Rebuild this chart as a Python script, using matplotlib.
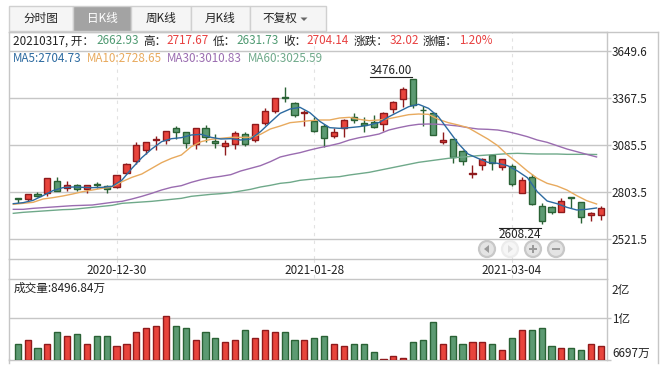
import numpy as np
import matplotlib
matplotlib.use("Agg")
import matplotlib.pyplot as plt
from matplotlib.patches import Rectangle, Circle, Polygon

plt.rcParams['font.family'] = ['Noto Sans CJK SC', 'DejaVu Sans']

open_ = [2762.6,2760.6,2786.6,2792.6,2864.6,2822.6,2840.6,2816.6,2848.6,2838.6,
         2828.6,2912.6,2984.6,3050.6,3114.6,3110.6,3182.6,3158.6,3086.6,3182.6,
         3104.6,3078.6,3086.6,3146.6,3110.6,3216.6,3288.6,3368.6,3336.6,3276.6,
         3226.6,3196.6,3134.6,3182.6,3248.6,3212.6,3222.6,3206.6,3296.6,3356.6,
         3476.0,3294.6,3276.6,3098.6,3116.6,3046.6,2906.6,2960.6,3020.6,2952.6,
         2958.6,2796.6,2888.6,2714.6,2708.6,2682.6,2770.6,2738.6,2664.6,2662.93]
close = [2758.6,2786.6,2776.6,2882.6,2808.6,2840.6,2820.6,2840.6,2842.6,2816.6,
         2900.6,2966.6,3080.6,3098.6,3118.6,3164.6,3158.6,3092.6,3182.6,3130.6,
         3092.6,3092.6,3152.6,3086.6,3206.6,3286.6,3362.6,3362.6,3262.6,3282.6,
         3168.6,3126.6,3158.6,3232.6,3230.6,3204.6,3192.6,3276.6,3338.6,3416.6,
         3320.6,3290.6,3142.6,3110.6,3012.6,2984.6,2912.6,2998.6,2972.6,2996.6,
         2848.6,2870.6,2730.6,2628.6,2678.6,2744.6,2764.6,2648.6,2672.6,2704.14]
high = [2766.6,2787.0,2802.6,2885.0,2888.6,2864.6,2846.6,2842.6,2858.6,2840.0,
        2904.6,2976.6,3098.6,3100.6,3136.6,3168.6,3196.6,3160.6,3184.6,3202.6,
        3146.6,3112.6,3166.6,3158.6,3208.0,3302.6,3366.0,3428.6,3338.0,3290.0,
        3248.6,3208.0,3186.6,3236.6,3276.6,3252.6,3262.6,3278.0,3346.6,3428.6,
        3476.0,3316.6,3278.0,3158.6,3118.0,3052.6,2962.6,3002.6,3028.6,2998.0,
        2966.6,2892.6,2906.6,2732.6,2716.6,2766.6,2771.0,2740.0,2678.6,2717.67]
low = [2736.6,2738.6,2770.6,2778.6,2806.6,2808.6,2808.6,2792.6,2822.6,2792.6,
       2824.6,2910.6,2966.6,3026.6,3052.6,3086.6,3116.6,3066.6,3056.6,3098.6,
       3062.6,3020.6,3056.6,3074.6,3098.6,3202.6,3272.6,3342.6,3248.6,3196.6,
       3162.6,3068.6,3122.6,3132.6,3216.6,3158.6,3182.6,3166.6,3272.6,3312.6,
       3302.6,3196.6,3140.0,3086.6,2972.6,2962.6,2886.6,2932.6,2932.6,2932.6,
       2838.6,2795.0,2722.6,2608.24,2666.6,2678.6,2706.6,2612.6,2628.6,2631.73]
ma5 = [2730.6,2736.6,2750.6,2778.6,2808.6,2826.6,2830.6,2828.6,2826.6,2828.6,
       2834.6,2872.6,2942.6,3006.6,3058.6,3102.6,3120.6,3126.6,3142.6,3146.6,
       3128.6,3118.6,3120.6,3112.6,3118.6,3162.6,3218.6,3272.6,3298.6,3308.6,
       3276.6,3224.6,3186.6,3182.6,3186.6,3192.6,3202.6,3217.6,3252.6,3282.6,
       3312.6,3326.6,3302.6,3252.6,3172.6,3092.6,3028.6,3002.6,2978.6,2972.6,
       2958.6,2926.6,2886.6,2802.6,2746.6,2730.6,2708.6,2692.6,2696.6,2704.73]
ma10 = [2726.6,2732.6,2738.6,2758.6,2766.6,2776.6,2788.6,2802.6,2812.6,2822.6,
        2832.6,2862.6,2888.6,2908.6,2942.6,2976.6,3002.6,3022.6,3072.6,3102.6,
        3116.6,3122.6,3128.6,3128.6,3128.6,3146.6,3178.6,3196.6,3216.6,3222.6,
        3228.6,3232.6,3232.6,3244.6,3248.6,3236.6,3228.6,3232.6,3240.6,3252.6,
        3264.6,3268.6,3266.6,3236.6,3216.6,3202.6,3186.6,3152.6,3118.6,3078.6,
        3022.6,2976.6,2926.6,2882.6,2852.6,2836.6,2812.6,2778.6,2748.6,2728.65]
ma30 = [2696.6,2696.6,2702.6,2706.6,2710.6,2714.6,2718.6,2720.6,2722.6,2730.6,
        2738.6,2744.6,2758.6,2774.6,2792.6,2812.6,2828.6,2838.6,2858.6,2874.6,
        2886.6,2894.6,2904.6,2926.6,2942.6,2958.6,2982.6,3010.6,3024.6,3036.6,
        3052.6,3066.6,3078.6,3092.6,3112.6,3126.6,3136.6,3148.6,3172.6,3186.6,
        3198.6,3206.8,3208.6,3206.8,3202.6,3196.6,3186.6,3178.6,3176.6,3172.6,
        3162.6,3148.6,3132.6,3112.6,3098.6,3078.6,3058.6,3042.6,3026.6,3010.83]
ma60 = [2672.6,2678.6,2682.6,2686.6,2690.6,2694.6,2696.6,2702.6,2708.6,2714.6,
        2720.6,2732.6,2736.6,2740.6,2744.6,2750.6,2756.6,2762.6,2774.6,2780.6,
        2786.6,2790.6,2796.6,2806.6,2816.6,2830.6,2840.6,2852.6,2858.6,2870.6,
        2876.6,2882.6,2888.6,2892.6,2902.6,2910.6,2918.6,2930.6,2942.6,2954.6,
        2966.6,2978.6,2986.6,2994.6,3002.6,3008.6,3012.6,3018.6,3022.6,3026.6,
        3030.6,3032.6,3030.6,3028.6,3028.6,3028.6,3026.6,3026.6,3026.6,3025.59]
volume = [8608,8830,8386,8608,9274,9052,9163,8608,8997,8997,
          8442,8608,9274,9496,9607,10162,9552,9441,8830,9274,
          8886,8719,8830,9385,8886,9330,9274,9274,8775,8775,
          8941,9052,8553,8497,8553,8553,8109,7739,7942,7831,
          8719,8830,9829,8608,8997,8608,8719,8719,8608,8275,
          8941,9330,9385,9441,8497,8386,8386,8275,8608,8496.84]
date_positions = [10, 30, 50]
date_labels = ['2020-12-30', '2021-01-28', '2021-03-04']
price_ticks = [3649.6, 3367.5, 3085.5, 2803.5, 2521.5]
vol_ticks = [7720, 10000, 11660]
vol_tick_labels = ['6697万', '1亿', '2亿']

W, H = 664, 372
FS = 8.4
RED, RED_E = '#e8443c', '#8f1a1c'
GRN, GRN_E = '#5c9a72', '#2a6235'
C5, C10, C30, C60 = '#2c6aa0', '#e8aa5e', '#9a6cb0', '#6fa98a'
RULE = '#c6c6c6'
TXT = '#222222'

fig = plt.figure(figsize=(W/100, H/100), dpi=100, facecolor='white')

def axes_px(x0, y0, x1, y1, **kw):
    return fig.add_axes([x0/W, 1-y1/H, (x1-x0)/W, (y1-y0)/H], **kw)

x = np.arange(60)
op, cl, hi, lo = map(np.array, (open_, close, high, low))
up = cl >= op
XLIM = (-0.93, 59.56)
LINE_DX = -0.445
BODY_W = 0.62

# main panel
ax = axes_px(8.5, 31.5, 606.5, 259)
ax.set_xlim(*XLIM)
ax.set_ylim(2398.6, 3763.6)
ax.set_axisbelow(True)
ax.grid(axis='y', color=RULE, lw=1.0)
ax.grid(axis='x', color='#e2e2e2', lw=0.8, ls=(0, (3, 4)))
edge = [RED_E if u else GRN_E for u in up]
fill = [RED if u else GRN for u in up]
ax.vlines(x, lo, hi, colors=edge, lw=1.0, zorder=2)
ax.bar(x, np.maximum(np.abs(cl-op), 2), bottom=np.minimum(op, cl), width=BODY_W,
       color=fill, edgecolor=edge, linewidth=1.0, zorder=3)
for s, c in ((ma60, C60), (ma30, C30), (ma10, C10), (ma5, C5)):
    ax.plot(x+LINE_DX, s, color=c, lw=1.0, zorder=4)
ax.set_yticks(price_ticks)
ax.set_yticklabels([f'{v:.1f}' for v in price_ticks], fontsize=FS, color=TXT)
ax.set_xticks(date_positions)
ax.set_xticklabels(date_labels, fontsize=FS, color=TXT)
ax.tick_params(axis='y', left=False, labelleft=False, right=True, labelright=True,
               length=2.9, width=1, color=RULE, pad=1.0)
ax.tick_params(axis='x', length=0, pad=3.5)
for s in ax.spines.values():
    s.set_color(RULE); s.set_linewidth(1.0)
# date strip: the dashed guides carry on below the panel, and both side rules too
trans = ax.get_xaxis_transform()
strip = (278.5-259)/(259-31.5)
for p in date_positions:
    ax.plot([p, p], [0, -strip], transform=trans, clip_on=False,
            color='#e2e2e2', lw=0.8, ls=(0, (3, 4)))
for p in XLIM:
    ax.plot([p, p], [0, -strip], transform=trans, clip_on=False, color=RULE, lw=1.0)

# volume panel
av = axes_px(8.5, 278.5, 606.5, 359.5)
av.set_xlim(*XLIM)
av.set_ylim(7720, 7720+18.5*243)
av.set_axisbelow(True)
av.axhline(10000, color=RULE, lw=1.0)
av.bar(x, np.array(volume)-7720, bottom=7720, width=BODY_W, color=fill, edgecolor=edge, linewidth=1.0, zorder=3)
av.set_xticks([])
av.set_yticks(vol_ticks)
av.set_yticklabels(vol_tick_labels, fontsize=FS, color=TXT)
av.tick_params(axis='y', left=False, labelleft=False, right=True, labelright=True,
               length=2.9, width=1, color=RULE, pad=1.0)
labs = av.get_yticklabels()
labs[0].set_va('bottom')
av.yaxis.get_major_ticks()[2].tick2line.set_visible(False)
for s in av.spines.values():
    s.set_color(RULE); s.set_linewidth(1.0)

# overlay in pixel coordinates
ov = fig.add_axes([0, 0, 1, 1], facecolor='none', zorder=10)
ov.set_xlim(0, W); ov.set_ylim(H, 0); ov.axis('off')

def T(px, py, s, color=TXT, ha='left', fs=FS):
    ov.text(px, py, s, color=color, ha=ha, va='center', fontsize=fs)

# frame pieces
ov.plot([8.5, 657.5], [31.5, 31.5], color=RULE, lw=1.0)
ov.plot([657.5, 657.5], [31.5, 363], color=RULE, lw=1.0)
ov.plot([8.5, 8.5], [359, 363], color=RULE, lw=1.0)

# tabs
tabs = [(8.5, 73, '分时图'), (73, 131, '日K线'), (131, 190.5, '周K线'),
        (190.5, 249.5, '月K线'), (249.5, 325.5, '不复权')]
for i, (a, b, s) in enumerate(tabs):
    active = i == 1
    ov.add_patch(Rectangle((a, 5.5), b-a, 25, facecolor='#a3a3a3' if active else '#f5f5f5',
                           edgecolor='#d0d0d0', lw=1.0))
    cx = (a+b)/2 if i < 4 else 279.7
    T(cx, 18.5, s, color='white' if active else TXT, ha='center')
ov.add_patch(Polygon([[300.5, 17.5], [307.5, 17.5], [304, 21]], closed=True, color='#666666', lw=0))

# info row
row1 = [(13, '20210317, 开：', TXT), (96, '2662.93', '#4f9a72'), (143, '高：', TXT),
        (166.7, '2717.67', '#e84040'), (213, '低：', TXT), (236.7, '2631.73', '#4f9a72'),
        (283, '收：', TXT), (306.7, '2704.14', '#e84040'), (353.7, '涨跌：', TXT),
        (389.3, '32.02', '#e84040'), (423, '涨幅：', TXT), (459, '1.20%', '#e84040')]
for px, s, c in row1:
    T(px, 41, s, color=c)
row2 = [(13.3, f'MA5:{ma5[-1]:.2f}', C5), (86.7, f'MA10:{ma10[-1]:.2f}', C10),
        (166.7, f'MA30:{ma30[-1]:.2f}', C30), (247.7, f'MA60:{ma60[-1]:.2f}', C60)]
for px, s, c in row2:
    T(px, 59, s, color=c)

# extreme labels
T(391, 70.5, '3476.00', ha='center')
ov.plot([370, 412], [76.7, 76.7], color=TXT, lw=0.8)
T(520, 234.5, '2608.24', ha='center')
ov.plot([499, 541], [227.5, 227.5], color=TXT, lw=0.8)

# volume caption
T(13.3, 288, '成交量:8496.84万')

# nav buttons
for cx, kind in ((487, 'l'), (510, 'r'), (533, '+'), (556, '-')):
    faded = kind == 'r'
    ring = '#ececec' if faded else '#c8c8c8'
    face = '#f6f6f6' if faded else '#e4e4e4'
    g = '#dcdcdc' if faded else '#9a9a9a'
    ov.add_patch(Circle((cx, 249), 8.0, facecolor=face, edgecolor=ring, lw=1.6))
    if kind == 'l':
        ov.add_patch(Polygon([[cx-3, 249], [cx+2, 245], [cx+2, 253]], closed=True, color=g, lw=0))
    elif kind == 'r':
        ov.add_patch(Polygon([[cx+3, 249], [cx-2, 245], [cx-2, 253]], closed=True, color=g, lw=0))
    else:
        ov.add_patch(Rectangle((cx-4, 248), 8, 2, color=g, lw=0))
        if kind == '+':
            ov.add_patch(Rectangle((cx-1, 245), 2, 8, color=g, lw=0))

fig.savefig('out.png', dpi=100, facecolor='white')
